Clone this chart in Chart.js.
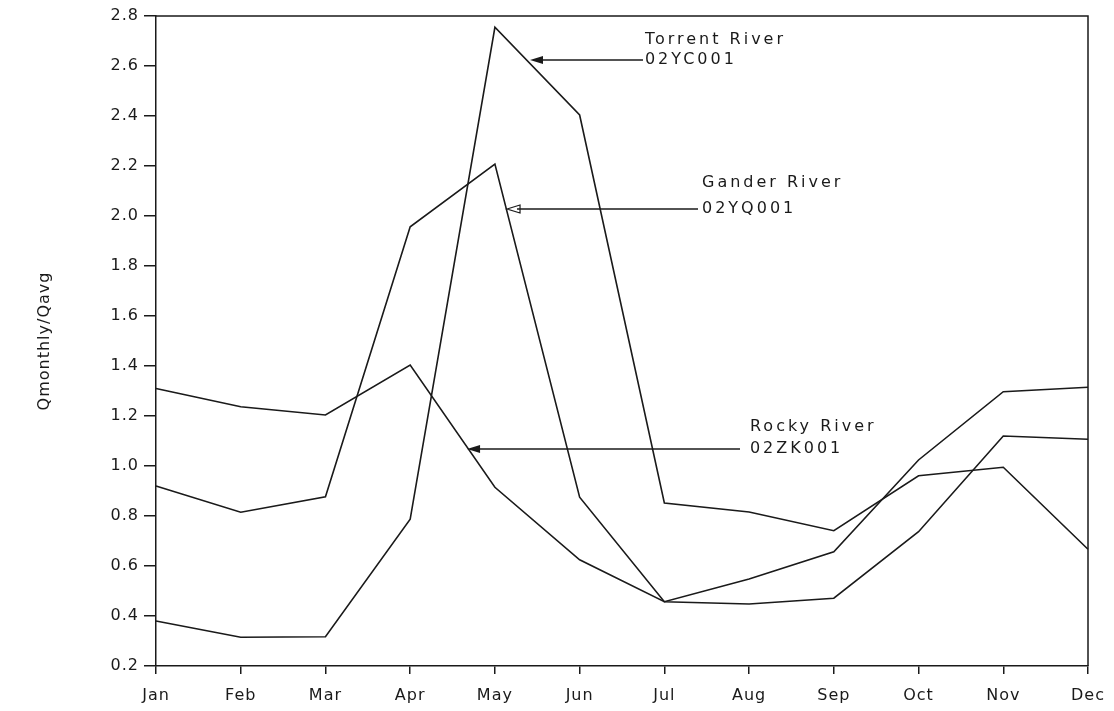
<!DOCTYPE html>
<html>
<head>
<meta charset="utf-8">
<script src="https://cdn.jsdelivr.net/npm/chart.js@4.4.1/dist/chart.umd.min.js"></script>
<style>
  html, body { margin: 0; padding: 0; background: #fff; }
  #wrap { width: 1114px; height: 711px; position: relative; }
</style>
</head>
<body>
<div id="wrap"><canvas id="chart" width="1114" height="711"></canvas></div>
<script>
var months = ["Jan", "Feb", "Mar", "Apr", "May", "Jun", "Jul", "Aug", "Sep", "Oct", "Nov", "Dec"];
var torrent = [0.38, 0.315, 0.317, 0.787, 2.755, 2.404, 0.852, 0.816, 0.741, 0.961, 0.995, 0.667];
var gander = [0.92, 0.815, 0.877, 1.957, 2.208, 0.875, 0.457, 0.448, 0.471, 0.737, 1.12, 1.107];
var rocky = [1.31, 1.237, 1.204, 1.404, 0.915, 0.625, 0.457, 0.548, 0.657, 1.024, 1.297, 1.315];
var yTicks = [0.2, 0.4, 0.6, 0.8, 1.0, 1.2, 1.4, 1.6, 1.8, 2.0, 2.2, 2.4, 2.6, 2.8];

// callouts: name, gauge id, arrow tip (month index, value), text start (month index), line values
var callouts = [
  { name: "Torrent River", gauge: "02YC001", tipX: 4.414, tailX: 5.748, y: 2.624, textX: 5.77, line1: 2.704, open: false },
  { name: "Gander River", gauge: "02YQ001", tipX: 4.143, tailX: 6.397, y: 2.028, textX: 6.444, line1: 2.132, open: true },
  { name: "Rocky River", gauge: "02ZK001", tipX: 3.671, tailX: 6.893, y: 1.068, textX: 7.01, line1: 1.156, open: false }
];

var INK = "#1a1a1a";
var FONT = "'DejaVu Sans', sans-serif";

var framePlugin = {
  id: "frame",
  beforeDraw: function (chart) {
    if ("letterSpacing" in chart.ctx) chart.ctx.letterSpacing = "1px";
  },
  afterDraw: function (chart) {
    var ctx = chart.ctx, a = chart.chartArea;
    var xs = chart.scales.x, ys = chart.scales.y;
    ctx.save();
    ctx.strokeStyle = INK;
    ctx.lineWidth = 1.5;
    ctx.beginPath();
    ctx.moveTo(a.left, a.top); ctx.lineTo(a.right, a.top); ctx.lineTo(a.right, a.bottom);
    ctx.stroke();

    ctx.fillStyle = INK;
    ctx.font = "16px " + FONT;
    ctx.textBaseline = "middle";
    ctx.textAlign = "left";
    if ("letterSpacing" in ctx) ctx.letterSpacing = "3px";
    callouts.forEach(function (c) {
      var x1 = xs.getPixelForValue(c.tipX), x2 = xs.getPixelForValue(c.tailX);
      var y = ys.getPixelForValue(c.y);
      ctx.lineWidth = 1.4;
      ctx.beginPath(); ctx.moveTo(x1 + 10, y); ctx.lineTo(x2, y); ctx.stroke();
      ctx.beginPath();
      ctx.moveTo(x1, y); ctx.lineTo(x1 + 13, y - 4); ctx.lineTo(x1 + 13, y + 4); ctx.closePath();
      if (c.open) { ctx.lineWidth = 1.2; ctx.stroke(); } else { ctx.fill(); }
      var tx = xs.getPixelForValue(c.textX);
      ctx.fillText(c.name, tx, ys.getPixelForValue(c.line1));
      ctx.fillText(c.gauge, tx, y);
    });
    ctx.restore();
    if ("letterSpacing" in ctx) ctx.letterSpacing = "0px";
  }
};

function series(data) {
  return { data: data, borderColor: INK, borderWidth: 1.6, pointRadius: 0, tension: 0, fill: false };
}

new Chart(document.getElementById("chart").getContext("2d"), {
  type: "line",
  data: { labels: months, datasets: [series(torrent), series(gander), series(rocky)] },
  options: {
    responsive: false,
    animation: false,
    layout: { padding: { top: 16, right: 26, left: 0, bottom: 0 } },
    plugins: { legend: { display: false }, tooltip: { enabled: false } },
    scales: {
      x: {
        offset: false,
        grid: { drawOnChartArea: false, drawTicks: true, tickLength: 8, color: INK, lineWidth: 1.5 },
        border: { color: INK, width: 1.5 },
        ticks: { color: INK, font: { family: FONT, size: 16 }, padding: 12, maxRotation: 0, autoSkip: false },
        afterFit: function (s) { s.height = 45; s.paddingRight = 0; s.paddingLeft = 0; }
      },
      y: {
        min: 0.2, max: 2.8,
        afterBuildTicks: function (s) { s.ticks = yTicks.map(function (v) { return { value: v }; }); },
        grid: { drawOnChartArea: false, drawTicks: true, tickLength: 12, color: INK, lineWidth: 1.5 },
        border: { color: INK, width: 1.5 },
        ticks: { color: INK, font: { family: FONT, size: 16 }, padding: 5, callback: function (v) { return v.toFixed(1); } },
        title: { display: true, text: "Qmonthly/Qavg", color: INK, font: { family: FONT, size: 16 }, padding: { top: 35, bottom: 0 } },
        afterFit: function (s) { s.width = 156; }
      }
    }
  },
  plugins: [framePlugin]
});
</script>
</body>
</html>
